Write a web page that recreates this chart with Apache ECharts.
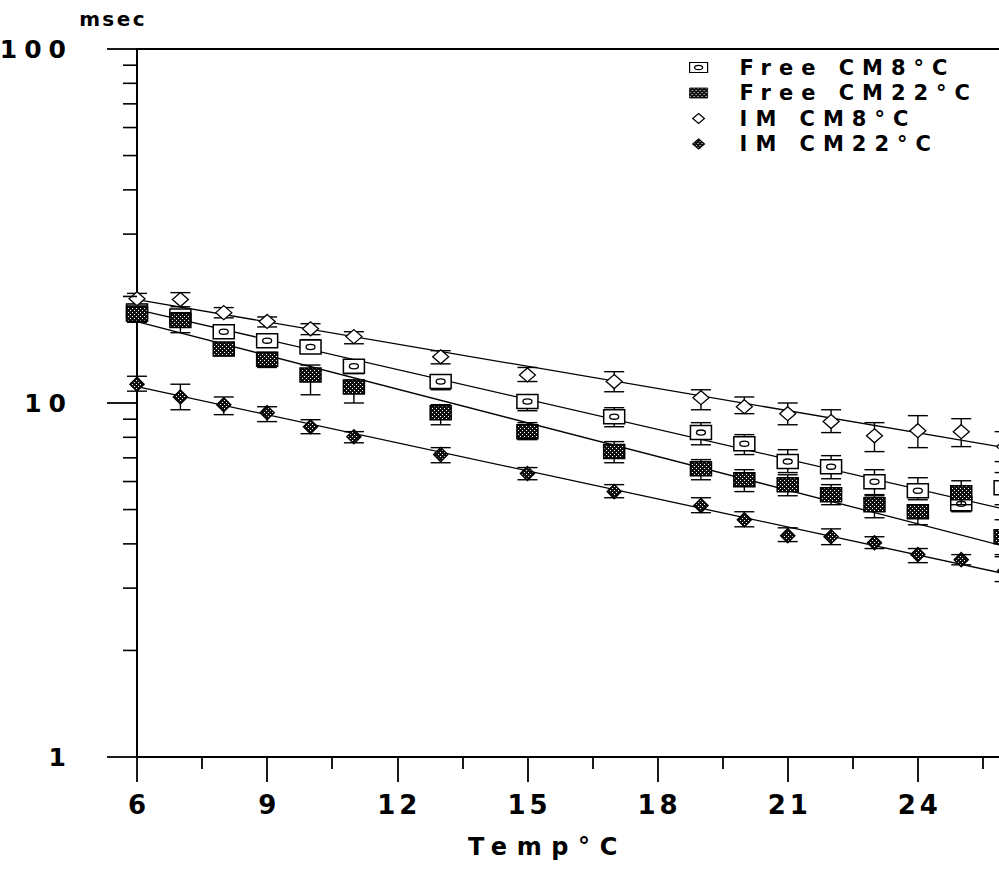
<!DOCTYPE html>
<html>
<head>
<meta charset="utf-8">
<script src="https://cdn.jsdelivr.net/npm/echarts@6.0.0/dist/echarts.min.js"></script>
<style>
  html, body { margin: 0; padding: 0; background: #fff; }
  #chart { width: 999px; height: 888px; }
  /* wide plotter-style lettering, spacing set per text size */
  #chart text { letter-spacing: 0.15em; }
  #chart text[style*="20px"] { letter-spacing: 0.12em; }  /* y axis name */
  #chart text[style*="21px"] { letter-spacing: 0.38em; }  /* legend */
  #chart text[style*="24px"] { letter-spacing: 0.4em; }   /* x axis name */
  #chart text[style*="25px"] { letter-spacing: 0.28em; }  /* y tick labels */
  #chart text[style*="26px"] { letter-spacing: 0.15em; }  /* x tick labels */
</style>
</head>
<body>
<div id="chart"></div>
<script>
// Temperatures (°C) at which relaxation times were measured
const temps = [6, 7, 8, 9, 10, 11, 13, 15, 17, 19, 20, 21, 22, 23, 24, 25, 26];

// Free CM8°C: mean and error-bar limits (msec)
const freeCM8   = [18.2, 17.6, 15.9, 15.0, 14.4, 12.7, 11.5, 10.1, 9.15, 8.25, 7.67, 6.83, 6.61, 5.99, 5.65, 5.19, 5.76];
const freeCM8Hi = [19.0, 18.35, 16.5, 15.6, 15.1, 13.25, 12.0, 10.55, 9.7, 8.8, 8.14, 7.38, 7.1, 6.48, 6.15, 5.44, 6.36];
const freeCM8Lo = [17.5, 17.0, 15.7, 14.4, 13.9, 12.1, 10.9, 9.51, 8.57, 7.62, 7.15, 6.36, 6.11, 5.51, 5.33, 4.93, 5.16];

// Free CM22°C
const freeCM22   = [17.8, 17.1, 14.2, 13.3, 12.0, 11.1, 9.39, 8.30, 7.29, 6.52, 6.07, 5.88, 5.51, 5.16, 4.93, 5.58, 4.19];
const freeCM22Hi = [18.7, 18.0, 14.8, 13.9, 12.8, 11.6, 9.89, 8.80, 7.78, 6.92, 6.48, 6.27, 5.88, 5.47, 5.16, 6.03, 4.68];
const freeCM22Lo = [16.9, 15.8, 13.6, 12.6, 10.55, 10.0, 8.68, 7.88, 6.78, 6.07, 5.62, 5.47, 5.16, 4.74, 4.53, 5.16, 3.73];

// IM CM8°C
const imCM8   = [19.7, 19.6, 18.0, 17.0, 16.2, 15.4, 13.5, 12.0, 11.5, 10.35, 9.76, 9.33, 8.86, 8.08, 8.35, 8.30, 7.53];
const imCM8Hi = [20.4, 20.5, 18.6, 17.5, 16.75, 15.9, 14.05, 12.6, 12.26, 10.9, 10.4, 10.0, 9.57, 8.80, 9.21, 9.03, 8.30];
const imCM8Lo = [18.8, 18.7, 17.4, 16.4, 15.6, 14.7, 12.9, 11.5, 10.76, 9.57, 9.33, 8.68, 8.25, 7.29, 7.48, 7.53, 6.83];

// IM CM22°C
const imCM22   = [11.3, 10.4, 9.89, 9.39, 8.57, 8.03, 7.15, 6.32, 5.62, 5.13, 4.68, 4.22, 4.19, 4.03, 3.73, 3.61, 3.36];
const imCM22Hi = [11.9, 11.3, 10.4, 9.76, 8.97, 8.30, 7.48, 6.57, 5.88, 5.40, 4.93, 4.44, 4.41, 4.19, 3.88, 3.73, 3.68];
const imCM22Lo = [10.8, 9.57, 9.27, 8.86, 8.19, 7.72, 6.78, 6.07, 5.40, 4.90, 4.47, 4.06, 3.98, 3.88, 3.54, 3.49, 3.13];

// Exponential fits: end points of each regression line
const fitTemps    = [6, 27];
const freeCM8Fit  = [18.35, 4.70];
const freeCM22Fit = [16.97, 3.66];
const imCM8Fit    = [19.58, 7.13];
const imCM22Fit   = [11.12, 3.10];

// Axis ticks and labels
const xMin = 6, xMax = 27, xStep = 3;
const yMinorTicks = [2, 3, 4, 5, 6, 7, 8, 9, 20, 30, 40, 50, 60, 70, 80, 90];
const seriesNames = ['Free CM8°C', 'Free CM22°C', 'IM CM8°C', 'IM CM22°C'];

const FONT = 'DejaVu Sans';
const INK = '#000';

// dark stipple used for the filled markers
function makeTexture() {
  const c = document.createElement('canvas');
  c.width = 4; c.height = 4;
  const g = c.getContext('2d');
  g.fillStyle = '#111';
  g.fillRect(0, 0, 4, 4);
  g.fillStyle = '#fff';
  g.fillRect(0, 0, 1, 1);
  g.fillRect(2, 2, 1, 1);
  return c;
}
const texture = { image: makeTexture(), repeat: 'repeat' };

function rows(mean, lo, hi) {
  return temps.map((t, i) => [t, mean[i], lo[i], hi[i]]);
}

const markerShapes = {
  openBox: (x, y) => [
    { type: 'rect', shape: { x: x - 10.5, y: y - 7, width: 21, height: 14 },
      style: { fill: '#fff', stroke: INK, lineWidth: 1.5 } },
    { type: 'ellipse', shape: { cx: x, cy: y, rx: 4.5, ry: 2.6 },
      style: { fill: 'none', stroke: INK, lineWidth: 1.3 } }
  ],
  texturedBox: (x, y) => [
    { type: 'rect', shape: { x: x - 10.5, y: y - 7, width: 21, height: 14 },
      style: { fill: texture, stroke: INK, lineWidth: 1.5 } }
  ],
  openDiamond: (x, y) => [
    { type: 'polygon', shape: { points: [[x, y - 7], [x + 8, y], [x, y + 7], [x - 8, y]] },
      style: { fill: '#fff', stroke: INK, lineWidth: 1.3 } }
  ],
  texturedDiamond: (x, y) => [
    { type: 'polygon', shape: { points: [[x, y - 7], [x + 7, y], [x, y + 7], [x - 7, y]] },
      style: { fill: texture, stroke: INK, lineWidth: 1.5 } }
  ]
};

function errorBarRenderer(shape) {
  return function (params, api) {
    const t = api.value(0);
    const c = api.coord([t, api.value(1)]);
    const lo = api.coord([t, api.value(2)]);
    const hi = api.coord([t, api.value(3)]);
    const cap = 10;
    const ls = { stroke: INK, lineWidth: 1.4 };
    const children = [
      { type: 'line', shape: { x1: c[0], y1: hi[1], x2: c[0], y2: lo[1] }, style: ls },
      { type: 'line', shape: { x1: c[0] - cap, y1: hi[1], x2: c[0] + cap, y2: hi[1] }, style: ls },
      { type: 'line', shape: { x1: c[0] - cap, y1: lo[1], x2: c[0] + cap, y2: lo[1] }, style: ls }
    ].concat(markerShapes[shape](c[0], c[1]));
    return { type: 'group', children };
  };
}

function errorSeries(name, data, shape, z) {
  return {
    name, type: 'custom', data, z, clip: false, silent: true,
    itemStyle: { color: INK },
    renderItem: errorBarRenderer(shape)
  };
}

function fitSeries(name, ends) {
  return {
    name, type: 'line', z: 1, silent: true, symbol: 'none',
    data: fitTemps.map((t, i) => [t, ends[i]]),
    lineStyle: { color: INK, width: 1.3 }
  };
}

const axisLineStyle = { color: INK, width: 1.8 };
const labelFont = { fontFamily: FONT, fontWeight: 'bold', color: INK };

const option = {
  animation: false,
  backgroundColor: '#fff',
  grid: {
    left: 137, top: 49, right: -49, bottom: 131,
    containLabel: false, outerBoundsMode: 'none',
    show: true, borderColor: INK, borderWidth: 1.8, backgroundColor: 'transparent'
  },
  legend: {
    orient: 'vertical', left: 684, top: 52, selectedMode: false,
    itemWidth: 18, itemHeight: 10, itemGap: 4.5,
    textStyle: Object.assign({ fontSize: 21, lineHeight: 20, padding: [0, 0, 0, 27] }, labelFont),
    data: [
      { name: seriesNames[0], icon: 'path://M0,0H18V10H0Z M5,5A4,2.2 0 1,0 13,5A4,2.2 0 1,0 5,5Z',
        itemStyle: { color: '#fff', borderColor: INK, borderWidth: 1.2 } },
      { name: seriesNames[1], icon: 'rect',
        itemStyle: { color: texture, borderColor: INK, borderWidth: 0.8 } },
      { name: seriesNames[2], icon: 'path://M7,0L14,6L7,12L0,6Z',
        itemStyle: { color: '#fff', borderColor: INK, borderWidth: 1.2 } },
      { name: seriesNames[3], icon: 'path://M7,0L14,6L7,12L0,6Z',
        itemStyle: { color: texture, borderColor: INK, borderWidth: 1.2 } }
    ]
  },
  xAxis: {
    type: 'value', min: xMin, max: xMax, interval: xStep,
    axisLine: { show: true, onZero: false, lineStyle: axisLineStyle },
    axisTick: { show: true, length: 25, lineStyle: axisLineStyle },
    minorTick: { show: true, splitNumber: 2, length: 12, lineStyle: axisLineStyle },
    splitLine: { show: false },
    axisLabel: Object.assign({ fontSize: 26, margin: 35, padding: [0, 0, 0, 4], showMaxLabel: false }, labelFont),
    name: 'Temp°C', nameLocation: 'middle', nameGap: 78,
    nameTextStyle: Object.assign({ fontSize: 24, padding: [0, 90, 0, 0] }, labelFont)
  },
  yAxis: {
    type: 'log', logBase: 10, min: 1, max: 100,
    axisLine: { show: true, lineStyle: axisLineStyle },
    axisTick: { show: true, length: 30, lineStyle: axisLineStyle },
    splitLine: { show: false },
    axisLabel: Object.assign({ fontSize: 25, margin: 64 }, labelFont),
    name: 'msec', nameLocation: 'end', nameGap: 20,
    nameTextStyle: Object.assign({ fontSize: 20, padding: [0, 48, 0, 0] }, labelFont)
  },
  series: [
    fitSeries('Free CM8°C fit', freeCM8Fit),
    fitSeries('Free CM22°C fit', freeCM22Fit),
    fitSeries('IM CM8°C fit', imCM8Fit),
    fitSeries('IM CM22°C fit', imCM22Fit),
    errorSeries(seriesNames[0], rows(freeCM8, freeCM8Lo, freeCM8Hi), 'openBox', 3),
    errorSeries(seriesNames[1], rows(freeCM22, freeCM22Lo, freeCM22Hi), 'texturedBox', 4),
    errorSeries(seriesNames[2], rows(imCM8, imCM8Lo, imCM8Hi), 'openDiamond', 3),
    errorSeries(seriesNames[3], rows(imCM22, imCM22Lo, imCM22Hi), 'texturedDiamond', 4),
    {
      // minor ticks of the logarithmic axis at 2..9 and 20..90
      name: 'yMinor', type: 'custom', silent: true, clip: false, z: 5,
      data: yMinorTicks.map(v => [xMin, v]),
      renderItem: (params, api) => {
        const c = api.coord([api.value(0), api.value(1)]);
        return { type: 'line', shape: { x1: c[0] - 14, y1: c[1], x2: c[0], y2: c[1] },
                 style: { stroke: INK, lineWidth: 1.6 } };
      }
    }
  ]
};

const chart = echarts.init(document.getElementById('chart'), null, { renderer: 'svg' });
chart.setOption(option);
</script>
</body>
</html>
